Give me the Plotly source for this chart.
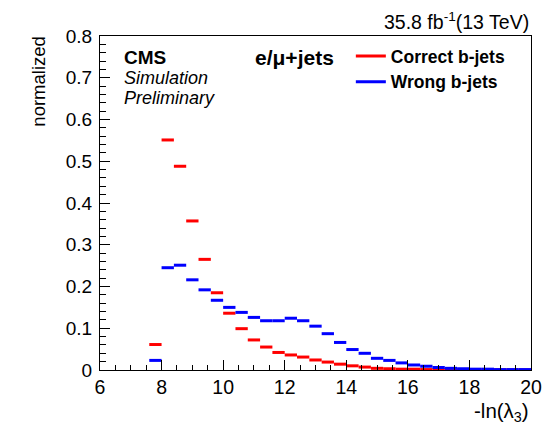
import plotly.graph_objects as go

# ---- data ----
bin_lo = 6.0
bin_width = 0.4
n_bins = 35
# values per bin starting at 6.0 (None = empty bin, not drawn)
correct_bjets = [None, None, None, None,
                 0.061, 0.551, 0.488, 0.357, 0.265, 0.185, 0.136, 0.099, 0.072, 0.055,
                 0.042, 0.036, 0.031, 0.024, 0.019, 0.014, 0.010, 0.007, 0.004, 0.003,
                 0.002, 0.002, 0.001, 0.001, 0.001, 0.001, 0.0005, 0.0005, 0.0003, 0.0002,
                 0.0001]
wrong_bjets = [None, None, None, None,
               0.023, 0.245, 0.251, 0.216, 0.192, 0.167, 0.150, 0.138, 0.126, 0.118,
               0.118, 0.124, 0.118, 0.105, 0.087, 0.066, 0.049, 0.040, 0.028, 0.023,
               0.017, 0.012, 0.009, 0.006, 0.004, 0.003, 0.002, 0.002, 0.001, 0.001,
               0.001]
series = [("Correct b-jets", correct_bjets, "#ff0000"),
          ("Wrong b-jets", wrong_bjets, "#0000ff")]


def segments(vals):
    xs, ys = [], []
    for i, v in enumerate(vals):
        if v is None:
            continue
        lo = bin_lo + i * bin_width
        xs += [lo, lo + bin_width, None]
        ys += [v, v, None]
    return xs, ys


FONT = "Liberation Sans, Arial, sans-serif"
fig = go.Figure()
for k, (name, vals, col) in enumerate(series):
    xs, ys = segments(vals)
    fig.add_trace(go.Scatter(x=xs, y=ys, mode="lines", name="<b>%s</b>" % name,
                             legendgroup="g%d" % k,
                             line=dict(color=col, width=3), connectgaps=False))

fig.update_layout(
    width=554, height=424,
    margin=dict(l=100, r=21, t=36, b=54),
    paper_bgcolor="white", plot_bgcolor="white",
    font=dict(family=FONT, size=19, color="black"),
    showlegend=True,
    legend=dict(x=0.582, y=0.994, xanchor="left", yanchor="top",
                bgcolor="rgba(0,0,0,0)", font=dict(size=17.5, family=FONT),
                tracegroupgap=0),
)
fig.update_xaxes(range=[6, 20], dtick=2, tick0=0, ticks="inside", ticklen=10,
                 tickcolor="black", showline=True, linecolor="black", linewidth=1,
                 mirror=True, showgrid=False, zeroline=False,
                 minor=dict(dtick=0.5, ticks="inside", ticklen=5, tickcolor="black"),
                 tickfont=dict(size=19.5))
fig.update_yaxes(range=[0, 0.8], dtick=0.1, ticks="inside", ticklen=10,
                 tickcolor="black", showline=True, linecolor="black", linewidth=1,
                 mirror=True, showgrid=False, zeroline=False,
                 tickformat="~g", ticklabelstandoff=3,
                 minor=dict(dtick=0.02, ticks="inside", ticklen=6, tickcolor="black"),
                 tickfont=dict(size=19))

ann = [
    dict(text="<b>CMS</b>", x=0.051, y=0.937, xanchor="left", yanchor="middle", size=19),
    dict(text="<i>Simulation</i>", x=0.051, y=0.874, xanchor="left", yanchor="middle", size=18),
    dict(text="<i>Preliminary</i>", x=0.051, y=0.814, xanchor="left", yanchor="middle", size=18),
    dict(text="<b>e/μ+jets</b>", x=0.356, y=0.937, xanchor="left", yanchor="middle", size=21),
]
for a in ann:
    fig.add_annotation(xref="paper", yref="paper", x=a["x"], y=a["y"], text=a["text"],
                       xanchor=a["xanchor"], yanchor=a["yanchor"], showarrow=False,
                       font=dict(size=a["size"], family=FONT))

fig.add_annotation(xref="paper", yref="paper", x=1.0, y=-0.127,
                   text="-ln(λ<sub>3</sub>)", xanchor="right", yanchor="middle",
                   showarrow=False, font=dict(size=20.5, family=FONT))
fig.add_annotation(xref="paper", yref="paper", x=1.0, y=1.0, yshift=1,
                   text="35.8 fb<sup>-1</sup>(13 TeV)", xanchor="right", yanchor="bottom",
                   showarrow=False, font=dict(size=19.5, family=FONT))
fig.add_annotation(xref="paper", yref="paper", x=-0.142, y=1.008,
                   text="normalized", textangle=-90, xanchor="center", yanchor="top",
                   showarrow=False, font=dict(size=18.5, family=FONT))

fig.write_html("out.html")
